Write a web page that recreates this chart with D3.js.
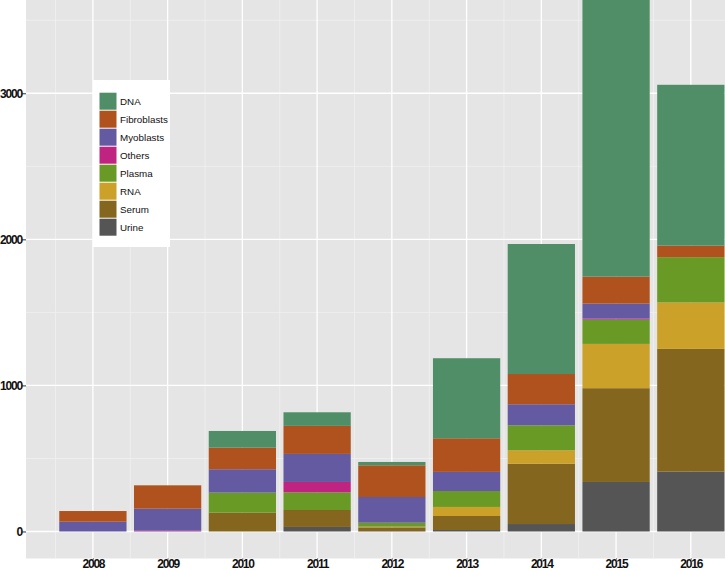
<!DOCTYPE html>
<html>
<head>
<meta charset="utf-8">
<script src="https://cdn.jsdelivr.net/npm/d3@7"></script>
<style>
  html, body { margin: 0; padding: 0; background: #ffffff; }
  svg { display: block; }
</style>
</head>
<body>
<svg id="chart" width="725" height="571"></svg>
<script>
// ---- data ----
const years = [2008, 2009, 2010, 2011, 2012, 2013, 2014, 2015, 2016];
const seriesNames = ["DNA", "Fibroblasts", "Myoblasts", "Others", "Plasma", "RNA", "Serum", "Urine"];
const DNA         = [0,   0,   114, 93,  23,  548, 890, 1955, 1101];
const Fibroblasts = [73,  160, 148, 192, 217, 230, 207, 185,  79];
const Myoblasts   = [67,  151, 160, 192, 176, 131, 144, 103,  0];
const Others      = [0,   5,   0,   71,  0,   0,   0,   7,    0];
const Plasma      = [0,   0,   137, 121, 27,  109, 171, 166,  310];
const RNA         = [0,   0,   0,   0,   5,   62,  92,  303,  318];
const Serum       = [0,   0,   129, 116, 25,  96,  413, 642,  840];
const Urine       = [0,   0,   0,   31,  3,   10,  51,  339,  410];
const yTicks = [0, 1000, 2000, 3000];
const yMinor = [500, 1500, 2500, 3500];
const colors = ["#4f8e66", "#af521e", "#645aa2", "#bf2480", "#6a9a26", "#cba12a", "#84661f", "#555555"];

const valuesBySeries = { DNA, Fibroblasts, Myoblasts, Others, Plasma, RNA, Serum, Urine };
const table = years.map((yr, i) => {
  const row = { year: yr };
  seriesNames.forEach(s => row[s] = valuesBySeries[s][i]);
  return row;
});

// ---- layout ----
const svg = d3.select("#chart");
const barWidth = 0.9;
const xMin = d3.min(years) - barWidth / 2, xMax = d3.max(years) + barWidth / 2;
const xPad = (xMax - xMin) * 0.05;
const yMax = 3700;
const yPad = yMax * 0.05;

const panelLeft = 26, panelBottom = 558.5;
const pxPerYear = 74.74;
const x = d3.scaleLinear()
  .domain([xMin - xPad, xMax + xPad])
  .range([panelLeft, panelLeft + (xMax - xMin + 2 * xPad) * pxPerYear]);
const pxPerUnit = 0.14607;
const y = d3.scaleLinear()
  .domain([-yPad, yMax + yPad])
  .range([panelBottom, panelBottom - (yMax + 2 * yPad) * pxPerUnit]);

const color = d3.scaleOrdinal().domain(seriesNames).range(colors);

// panel background
svg.append("rect")
  .attr("x", x.range()[0]).attr("y", y.range()[1])
  .attr("width", x.range()[1] - x.range()[0])
  .attr("height", y.range()[0] - y.range()[1])
  .attr("fill", "#e5e5e5");

// grid
const grid = svg.append("g");
const minorX = years.slice(0, -1).map(v => v + 0.5).concat([years[0] - 0.5, years[years.length - 1] + 0.5]);
grid.selectAll(".vminor").data(minorX).join("line")
  .attr("x1", d => x(d)).attr("x2", d => x(d))
  .attr("y1", y.range()[1]).attr("y2", y.range()[0])
  .attr("stroke", "#f2f2f2").attr("stroke-width", 0.7);
grid.selectAll(".hminor").data(yMinor).join("line")
  .attr("x1", x.range()[0]).attr("x2", x.range()[1])
  .attr("y1", d => y(d)).attr("y2", d => y(d))
  .attr("stroke", "#f2f2f2").attr("stroke-width", 0.7);
grid.selectAll(".vmajor").data(years).join("line")
  .attr("x1", d => x(d)).attr("x2", d => x(d))
  .attr("y1", y.range()[1]).attr("y2", y.range()[0])
  .attr("stroke", "#ffffff").attr("stroke-width", 1.3);
grid.selectAll(".hmajor").data(yTicks).join("line")
  .attr("x1", x.range()[0]).attr("x2", x.range()[1])
  .attr("y1", d => y(d)).attr("y2", d => y(d))
  .attr("stroke", "#ffffff").attr("stroke-width", 1.3);

// stacked bars (bottom: Urine ... top: DNA)
const stackOrder = seriesNames.slice().reverse();
const stacked = d3.stack().keys(stackOrder)(table);
svg.append("g").selectAll("g").data(stacked).join("g")
  .attr("fill", d => color(d.key))
  .selectAll("rect").data(d => d.filter(p => p[1] - p[0] > 0)).join("rect")
  .attr("x", d => x(d.data.year - barWidth / 2))
  .attr("width", d => x(d.data.year + barWidth / 2) - x(d.data.year - barWidth / 2))
  .attr("y", d => y(d[1]))
  .attr("height", d => y(d[0]) - y(d[1]));

// axes
const tickFont = sel => sel
  .attr("fill", "#111").style("font-family", "'Liberation Sans', Arial, sans-serif")
  .style("font-size", "12px").style("font-weight", "bold").style("letter-spacing", "-1.2px");

const yAxis = svg.append("g")
  .attr("transform", `translate(${panelLeft},0)`)
  .call(d3.axisLeft(y).tickValues(yTicks).tickSize(4).tickPadding(0).tickFormat(d3.format("d")));
yAxis.select(".domain").remove();
yAxis.selectAll(".tick line").attr("stroke", "#333").attr("stroke-width", 1);
yAxis.selectAll("text").call(tickFont);

const xAxis = svg.append("g")
  .attr("transform", `translate(0,${panelBottom})`)
  .call(d3.axisBottom(x).tickValues(years).tickSize(1).tickPadding(-0.5).tickFormat(d3.format("d")));
xAxis.select(".domain").remove();
xAxis.selectAll(".tick line").attr("stroke", "#333");
xAxis.selectAll("text").call(tickFont);

// legend
const lg = svg.append("g").attr("transform", "translate(93,80)");
lg.append("rect").attr("width", 77).attr("height", 167).attr("fill", "#ffffff");
const items = lg.selectAll(".item").data(seriesNames).join("g")
  .attr("transform", (d, i) => `translate(6.5,${12.7 + i * 18})`);
items.append("rect").attr("width", 17).attr("height", 17).attr("fill", d => color(d));
items.append("text").attr("x", 20.5).attr("y", 8.8).attr("dy", "0.35em")
  .text(d => d)
  .attr("fill", "#111")
  .style("font-family", "'Liberation Sans', Arial, sans-serif")
  .style("font-size", "9.8px");
</script>
</body>
</html>
